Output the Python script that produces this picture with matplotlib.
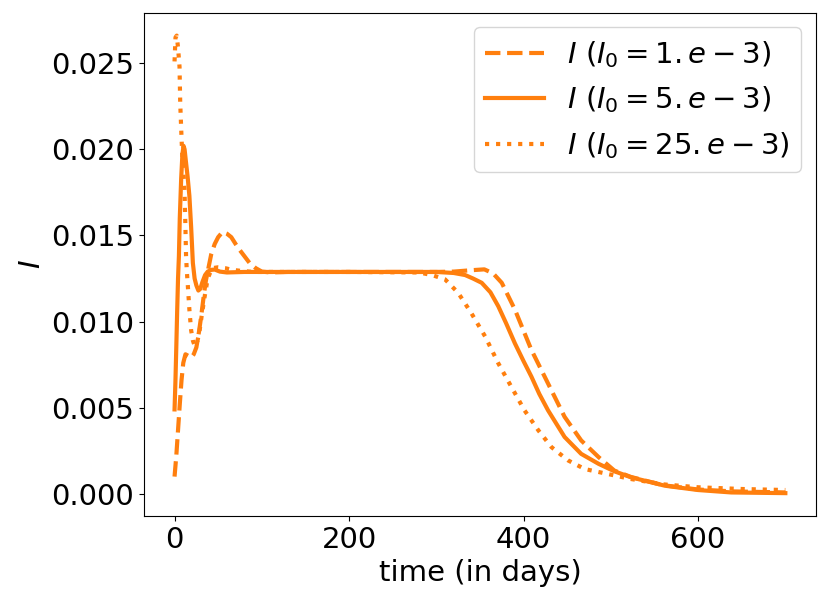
import matplotlib
matplotlib.use("Agg")
from matplotlib import pyplot as plt

# values (time in days, I)
t_1e3 = [0, 2, 4, 6, 8, 10, 12.5, 16, 19, 22, 25, 28, 30.5, 32, 34, 36, 38, 40, 42, 46, 50,
         55, 60, 65, 70, 74, 80, 86, 93, 100, 110, 130, 200, 300, 320, 340, 355, 365, 375,
         390, 409, 428, 447, 466, 486, 504, 523, 560, 600, 640, 700]
I_1e3 = [0.0010, 0.0022, 0.0037, 0.0052, 0.0066, 0.0076, 0.0081, 0.0080, 0.0079, 0.0081,
         0.0085, 0.0094, 0.0103, 0.0109, 0.0117, 0.0124, 0.0129, 0.0134, 0.0139, 0.0145,
         0.0149, 0.0152, 0.0151, 0.0149, 0.0145, 0.0142, 0.0138, 0.0134, 0.0131, 0.0129,
         0.01285, 0.01288, 0.01288, 0.01288, 0.0129, 0.01298, 0.01303, 0.0128, 0.01225,
         0.0107, 0.00835, 0.00641, 0.00447, 0.0031, 0.00213, 0.00135, 0.00098, 0.0005,
         0.00025, 0.00014, 0.00008]

t_5e3 = [0, 1, 2, 3, 4, 5, 6, 7.6, 9, 10.3, 11.5, 13, 15, 17, 19, 21, 23, 25, 27.3, 29.5,
         32, 35, 38, 42, 46, 52, 60, 80, 150, 300, 320, 333, 342, 352, 362, 371, 380, 390,
         400, 409, 418, 428, 447, 466, 486, 504, 523, 562, 600, 638, 700]
I_5e3 = [0.0049, 0.0065, 0.0085, 0.0106, 0.0125, 0.0138, 0.0160, 0.0183, 0.0197, 0.0202,
         0.0200, 0.0193, 0.0184, 0.0173, 0.0155, 0.0134, 0.0125, 0.0121, 0.0118, 0.0119,
         0.0123, 0.0127, 0.0129, 0.0130, 0.01302, 0.0129, 0.01285, 0.01288, 0.01288,
         0.01288, 0.01282, 0.0127, 0.0125, 0.01225, 0.0117, 0.01089, 0.0099, 0.00874,
         0.0077, 0.0068, 0.0058, 0.00485, 0.0033, 0.00232, 0.00174, 0.00131, 0.00096,
         0.00047, 0.00022, 0.00008, 0.00004]

t_25e3 = [0, 1.1, 2.5, 4, 5.7, 6.5, 7.6, 8.7, 10, 11.4, 12.5, 13.2, 14, 15.2, 17, 19, 21,
          23, 25.5, 28.5, 31, 34, 38, 43, 50, 58, 66, 75, 90, 110, 200, 280, 295, 310, 325,
          340, 356, 371, 386, 401, 417, 432, 451, 470, 493, 523, 560, 600, 650, 700]
I_25e3 = [0.0251, 0.0265, 0.0266, 0.0259, 0.0248, 0.0227, 0.0212, 0.0198, 0.0188, 0.0177,
          0.0154, 0.0138, 0.0130, 0.0121, 0.0107, 0.0095, 0.0089, 0.0086, 0.0087, 0.0094,
          0.0103, 0.0113, 0.0125, 0.0131, 0.01315, 0.0131, 0.0130, 0.01295, 0.01288, 0.01288,
          0.01288, 0.01285, 0.0127, 0.01245, 0.01167, 0.0105, 0.00913, 0.00758, 0.00621,
          0.00485, 0.00368, 0.00271, 0.00194, 0.00144, 0.00119, 0.00086, 0.00055, 0.00038,
          0.00028, 0.00022]

labels = [r'$I\ (I_0=1.e-3)$', r'$I\ (I_0=5.e-3)$', r'$I\ (I_0=25.e-3)$']
styles = ['--', '-', ':']

plt.rcParams['font.size'] = 21

fig = plt.figure(figsize=(8.3, 6.06), dpi=100)
ax = fig.add_axes([0.1735, 0.1485, 0.8095, 0.8305])

series = [(t_1e3, I_1e3), (t_5e3, I_5e3), (t_25e3, I_25e3)]
for (t, I), lab, ls in zip(series, labels, styles):
    ax.plot(t, I, ls, color='#ff7f0e', lw=3, label=lab)

ax.set_xlabel('time (in days)')
ax.set_ylabel('$I$')
ax.set_xticks([0, 200, 400, 600])
ax.set_yticks([0.0, 0.005, 0.010, 0.015, 0.020, 0.025])
ax.legend(loc='upper right')

fig.savefig('out.png')
